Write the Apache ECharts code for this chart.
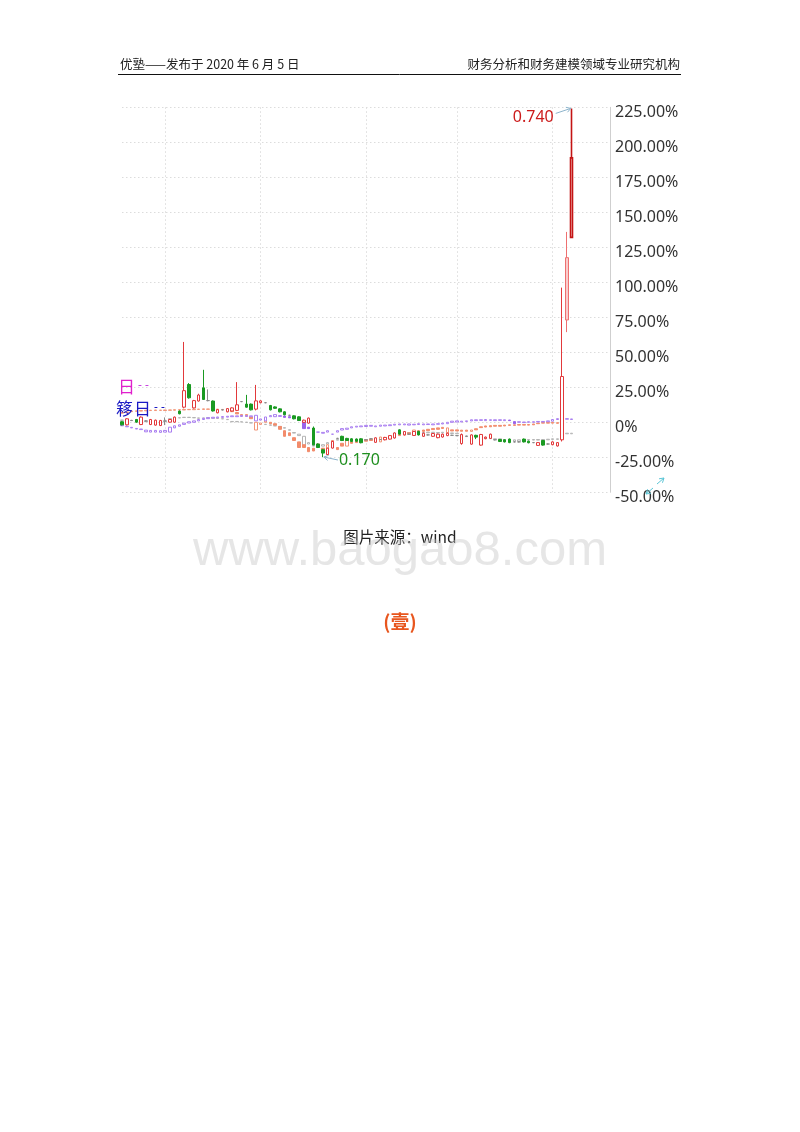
<!DOCTYPE html>
<html><head><meta charset="utf-8">
<script src="https://cdn.jsdelivr.net/npm/echarts@6/dist/echarts.min.js"></script>
<style>html,body{margin:0;padding:0;background:#fff}#c{width:800px;height:1132px}</style>
</head><body><div id="c"></div>
<script>
// ---- data (percent change vs. base) ----
const totalSlots = 103;
const categories = Array.from({length: totalSlots}, (_, i) => 'D' + (i + 1));
const monthStarts = [9, 29, 51, 70, 90];
const yTicks = [-50, -25, 0, 25, 50, 75, 100, 125, 150, 175, 200, 225];

// main security: [open, close, low, high]
const mainRows = [
[0.4,-1.8,-2.2,0.8],[-1.8,2.5,-2.2,2.9],[1.3,1.3,0.9,1.7],[2.0,0.1,-0.3,2.4],[-1.6,3.7,-2.0,4.2],
[1.0,1.0,0.6,1.4],[-1.6,2.0,-2.0,2.4],[-2.0,1.5,-2.4,1.9],[-2.3,1.3,-2.7,1.7],[1.0,1.0,-2.0,3.5],
[0.1,2.0,-0.3,2.4],[0.1,3.7,-0.3,4.1],[8.0,6.1,5.7,8.4],[10.8,22.6,10.0,57.4],[27.0,17.5,16.9,28.0],
[10.3,15.5,9.9,16.0],[15.2,19.5,14.8,20.4],[24.6,16.3,16.0,37.5],[15.5,15.5,15.0,23.5],[15.2,8.1,7.7,15.6],
[6.8,9.0,6.4,9.4],[8.9,8.9,8.5,9.3],[7.5,9.8,7.1,10.2],[8.1,10.3,7.7,10.7],[8.5,12.5,8.0,28.7],
[14.8,14.8,14.4,15.2],[13.0,10.8,10.4,19.6],[13.0,8.9,8.5,13.4],[9.4,15.3,8.5,26.7],[14.0,15.3,13.6,15.7],
[14.0,14.0,13.6,14.4],[12.0,8.9,8.5,12.4],[11.0,10.0,9.6,11.4],[9.6,7.5,7.1,10.0],[7.5,5.4,5.0,7.9],
[5.0,5.0,4.6,5.4],[4.6,2.5,2.1,5.0],[3.9,1.3,0.9,4.3],[0.0,1.5,-0.4,1.9],[-0.6,3.0,-1.0,3.4],
[-4.1,-16.1,-16.5,-3.0],[-15.5,-18.0,-18.4,-15.1],[-19.6,-22.0,-24.8,-19.0],[-23.0,-18.5,-23.4,-18.1],[-18.4,-13.7,-18.8,-13.3],
[-11.5,-11.5,-11.9,-11.1],[-10.0,-13.0,-13.4,-9.6],[-11.5,-13.0,-13.4,-11.1],[-11.8,-13.7,-14.1,-11.4],[-12.0,-13.5,-13.9,-11.6],
[-11.8,-14.6,-15.0,-11.4],[-12.5,-12.5,-12.9,-12.1],[-11.8,-11.8,-12.2,-11.4],[-14.3,-11.1,-14.7,-10.7],[-12.3,-12.3,-12.7,-11.9],
[-12.5,-10.8,-12.9,-10.4],[-12.0,-9.5,-12.4,-9.1],[-11.2,-7.6,-11.6,-7.2],[-5.4,-8.4,-8.8,-5.0],[-9.0,-6.6,-9.4,-6.2],
[-8.5,-8.5,-8.9,-8.1],[-9.4,-6.6,-9.8,-6.2],[-6.5,-9.0,-9.4,-6.1],[-10.0,-7.8,-10.4,-7.4],[-9.0,-9.0,-9.4,-8.6],
[-10.0,-8.0,-10.4,-7.6],[-11.0,-8.5,-11.4,-8.1],[-10.5,-8.5,-10.9,-8.1],[-9.5,-7.8,-9.9,-7.4],[-9.3,-9.3,-9.7,-8.9],
[-9.5,-9.5,-9.9,-9.1],[-15.2,-8.8,-16.0,-8.0],[-10.0,-10.0,-10.4,-9.6],[-15.6,-9.0,-16.0,-8.6],[-9.3,-10.5,-12.0,-8.9],
[-16.3,-8.7,-16.7,-8.3],[-11.7,-10.6,-12.1,-10.2],[-11.5,-8.5,-11.9,-8.1],[-12.5,-12.5,-12.9,-12.1],[-12.3,-13.7,-14.1,-11.9],
[-12.5,-14.0,-14.4,-12.1],[-12.0,-14.5,-14.9,-11.6],[-14.0,-14.0,-14.4,-13.6],[-14.0,-14.0,-14.4,-13.6],[-12.0,-14.0,-14.4,-11.6],
[-13.5,-14.6,-15.0,-13.1],[-14.5,-14.5,-14.9,-14.1],[-16.5,-14.5,-16.9,-14.1],[-13.0,-16.3,-16.7,-12.6],[-15.5,-15.5,-15.9,-15.1],
[-16.0,-14.0,-16.4,-13.6],[-16.9,-14.5,-17.3,-14.1],[-12.5,32.7,-13.7,96.2],[73.1,117.6,64.4,136.0],[132.1,188.9,132.1,224.2]
];

// comparison securities: [open, close]
const purpleOC = [
[-2.5,-2],[-3.2,-2.8],[-4,-3.6],[-4.8,-4.4],[-5.2,-4.8],[-6.8,-5.6],[-7,-5.8],[-7,-5.8],[-7.2,-6],[-7,-5.8],
[-7,-3.5],[-4,-2.5],[-2.8,-1.8],[-1.5,-0.6],[-0.5,0.4],[0,1],[1,2],[2,2.8],[2.6,3.3],[3,3.6],
[3.2,3.8],[3.5,4.1],[3.7,4.3],[4,4.6],[4,4.6],[4.2,4.8],[4.2,4.8],[4,4.6],[1,5],[1.6,2.4],
[1,3.8],[4,4.8],[4,5.5],[4.2,4.8],[4.5,3.5],[4,3.2],[3.6,3],[3.4,1.5],[0.5,-4.5],[-3.5,-4.5],
[-6,-6.5],[-7,-7],[-7.8,-7.2],[-7,-6],[-8.5,-8.5],[-7,-6],[-5.5,-4.5],[-5,-4.2],[-4,-3.2],[-3.4,-2.8],
[-3.2,-2.6],[-3,-2.2],[-2.8,-2.2],[-3.2,-2.6],[-2.8,-2],[-2.6,-2],[-2.4,-1.8],[-2,-1.4],[-1.8,-1.2],[-1.8,-1.2],
[-2,-1.2],[-1.8,-1.4],[-1.6,-1],[-1.8,-1.2],[-1.6,-1.2],[-1.8,-1.2],[-1.4,-1],[-1.2,-0.6],[-1,0],[0,0.8],
[0.2,1],[0.2,0.8],[0.6,1],[1,1.8],[1.2,1.8],[1.4,1.8],[1.2,2],[1.4,1.8],[1.2,1.8],[1.4,1.8],
[1.2,1.8],[1.6,1.2],[0.5,-1],[0,0.4],[-0.2,0.2],[0,0.4],[0,0.4],[0.2,0.6],[0.2,0.6],[0.4,1],
[0.8,2],[2,2.6],[2.2,2.6],[2.2,2.6],[2,2.4]
];
const salmonOC = [
[6.5,7],[7,7.4],[7.6,8],[7.8,8.2],[8,8.4],[8.2,8.6],[8.4,8.6],[8.4,8.8],[8.5,8.7],[8.4,8.8],
[8.6,8.8],[8.6,9],[8.8,9],[8.8,9.2],[9,9.2],[9,9.4],[9.2,9.4],[9.2,9.6],[9.3,9.5],[9.2,9.4],
[9,9.4],[9,9.2],[8.8,9],[8.2,7.6],[7,6],[5.5,4.6],[5.5,4.4],[3.8,2.6],[-5.5,0],[-1.5,-0.5],
[0,1],[0,-1],[-1,-2],[-3,-5],[-6,-10],[-7.5,-9.5],[-11,-13],[-14,-18],[-16,-18],[-18,-21],
[-18.5,-20.5],[-15.5,-17.5],[-18.5,-21],[-23,-16],[-18,-13],[-18,-19.5],[-15,-17],[-17,-13],[-14,-15],[-13.5,-14.5],
[-13,-14],[-12.5,-13.5],[-12,-13],[-12,-13],[-14,-10.5],[-11,-12],[-10,-11],[-9.5,-10.5],[-8.5,-9.5],[-8,-9],
[-7.5,-8.5],[-8.5,-5.5],[-6,-7],[-5.5,-6.5],[-5,-6],[-4.4,-5.2],[-4,-5],[-3.6,-4.4],[-7.5,-4],[-5.4,-6.2],
[-5.4,-6.2],[-5.6,-6.4],[-5.6,-6.4],[-6.5,-5.5],[-4.6,-5.4],[-3.2,-3.8],[-2.6,-3.4],[-2.4,-3.2],[-2.2,-2.8],[-2.2,-2.8],
[-2,-2.6],[-1.8,-2.2],[-1.8,-2.2],[-1.6,-2],[-1.6,-2],[-1.6,-2],[-1.2,-1.8],[-0.6,-1],[-0.2,-0.6],[-0.2,-0.6],
[0,-0.6],[-0.3,-0.7]
];
const greyOC = [
[1.4,1.6],[1.4,1.6],[1.2,1.4],[1.4,1.6],[1.7,1.9],[0.4,0.6],[-0.1,0.1],[-0.6,-0.4],[-0.1,0.1],[0.4,0.6],
[2.4,2.6],[2.9,3.1],[3.1,3.3],[3.4,3.6],[3.4,3.6],[3.2,3.4],[2.9,3.1],[2.9,3.1],[3.1,3.3],[2.9,3.1],
[2.7,2.9],[2.4,2.6],[1.9,2.1],[0.4,0.6],[0.4,0.6],[0.2,0.4],[-0.1,0.1],[-0.5,-0.3],[-0.9,-0.7],[-1.1,-0.9],
[-1.6,-1.4],[-2.1,-1.9],[-2.6,-2.4],[-3.1,-2.9],[-4.2,-3.8],[-5.7,-5.3],[-7.7,-7.3],[-9.5,-8.5],[-17,-10],[-15.5,-14.5],
[-17,-16],[-17.5,-16.5],[-17,-16],[-15.5,-14.5],[-14.5,-13.5],[-12.8,-12.2],[-13,-12.6],[-12.7,-12.3],[-12.7,-12.3],[-12.5,-12.1],
[-12.7,-12.3],[-12.7,-12.3],[-12.5,-12.1],[-12.2,-11.8],[-12.2,-11.8],[-11.7,-11.3],[-10.7,-10.3],[-9.7,-9.3],[-8.7,-8.3],[-8.2,-7.8],
[-7.7,-7.3],[-7.7,-7.3],[-7.5,-7.1],[-7.7,-7.3],[-7.5,-7.1],[-7.5,-7.1],[-7.7,-7.3],[-7.5,-7.1],[-7.7,-7.3],[-8,-7.6],
[-8.2,-7.8],[-9.2,-8.8],[-10.2,-9.8],[-10.2,-9.8],[-10.7,-10.3],[-10.7,-10.3],[-11.2,-10.8],[-11.7,-11.3],[-12.2,-11.8],[-12.2,-11.8],
[-12.7,-12.3],[-13.5,-12.5],[-13.5,-12.5],[-13.5,-12.5],[-13,-12.6],[-12.7,-12.3],[-12.7,-12.3],[-12.7,-12.3],[-12.7,-12.3],[-12.5,-12.1],
[-12.2,-11.8],[-12.2,-11.8],[-10.2,-9.8],[-8.2,-7.8],[-8.2,-7.8]
];
const highLabel = '0.740';
const lowLabel = '0.170';

// ---- build ----
function ocToCandle(rows){
  return rows.map(r => [r[0], r[1], Math.min(r[0], r[1]), Math.max(r[0], r[1])]);
}
const lastIdx = mainRows.length - 1;
const mainData = mainRows.map((r, i) => {
  if (i === lastIdx) return {value: r, itemStyle: {borderColor: '#c41414', borderWidth: 1.6}};
  if (i === lastIdx - 1) return {value: r, itemStyle: {color: '#f9cccc', borderColor: '#ee7070'}};
  return r;
});
let lowIdx = 0;
mainRows.forEach((r, i) => { if (r[2] < mainRows[lowIdx][2]) lowIdx = i; });
const fmtPct = v => v === 0 ? '0%' : v.toFixed(2) + '%';

const chart = echarts.init(document.getElementById('c'), null, {renderer: 'canvas'});
const dotted = {color: '#dcdcdc', type: [1.5, 2.5], width: 1};
const option = {
  animation: false,
  backgroundColor: '#fff',
  grid: {left: 122, right: 190, top: 107.3, bottom: 1132 - 492.3},
  xAxis: {
    type: 'category', data: categories, boundaryGap: false,
    axisLine: {show: false}, axisTick: {show: false}, axisLabel: {show: false},
    splitLine: {show: true, interval: (idx) => monthStarts.includes(idx), lineStyle: dotted}
  },
  yAxis: {
    type: 'value', position: 'right', min: yTicks[0], max: yTicks[yTicks.length - 1], interval: 25,
    axisLine: {show: true, lineStyle: {color: '#cfcfcf'}},
    axisTick: {show: false},
    splitLine: {show: true, lineStyle: dotted},
    axisLabel: {show: false}
  },
  series: [
    {type: 'candlestick', name: 'grey', data: ocToCandle(greyOC), barWidth: 3, clip: false, z: 2,
     itemStyle: {color: '#fff', color0: '#b4b4b4', borderColor: '#b4b4b4', borderColor0: '#b4b4b4', borderColorDoji: '#b4b4b4', borderWidth: 1}},
    {type: 'candlestick', name: 'salmon', data: ocToCandle(salmonOC), barWidth: 3, clip: false, z: 3,
     itemStyle: {color: '#fff', color0: '#f28c6c', borderColor: '#f29476', borderColor0: '#f28c6c', borderColorDoji: '#f29476', borderWidth: 1}},
    {type: 'candlestick', name: 'purple', data: ocToCandle(purpleOC), barWidth: 3, clip: false, z: 4,
     itemStyle: {color: '#fff', color0: '#9a62ea', borderColor: '#a97ef0', borderColor0: '#9a62ea', borderColorDoji: '#a97ef0', borderWidth: 1}},
    {type: 'candlestick', name: 'main', data: mainData, barWidth: 3, clip: false, z: 5,
     itemStyle: {color: '#fff', color0: '#1a9a22', borderColor: '#e2393b', borderColor0: '#1a9a22', borderColorDoji: '#8c8c8c', borderWidth: 1}}
  ]
};
chart.setOption(option);

function arrowEls(from, to, color){
  const a = Math.atan2(to[1] - from[1], to[0] - from[0]);
  const L = 5;
  const p1 = [to[0] - L * Math.cos(a - 0.55), to[1] - L * Math.sin(a - 0.55)];
  const p2 = [to[0] - L * Math.cos(a + 0.55), to[1] - L * Math.sin(a + 0.55)];
  return [
    {type: 'line', shape: {x1: from[0], y1: from[1], x2: to[0], y2: to[1]}, style: {stroke: color, lineWidth: 1}, z: 20},
    {type: 'polyline', shape: {points: [p1, to, p2]}, style: {stroke: color, lineWidth: 1, fill: null}, z: 20}
  ];
}
const toPx = (cat, v) => chart.convertToPixel({xAxisIndex: 0, yAxisIndex: 0}, [cat, v]);
const hiPt = toPx(categories[lastIdx], mainRows[lastIdx][3]);
const loPt = toPx(categories[lowIdx], mainRows[lowIdx][2]);
const axisX = toPx(categories[totalSlots - 1], 0)[0];
const arrowColor = '#8db4cc';
const cjk = '"Noto Sans CJK SC", "Noto Sans", sans-serif';
// y-axis labels, placed through the axis scale (drawn slightly below each grid line as in the source)
const yLabelEls = yTicks.map(v => ({
  type: 'text', x: axisX + 5, y: toPx(categories[0], v)[1] + 5,
  style: {text: fmtPct(v), font: '16px "Noto Sans"', fill: '#333', textAlign: 'left', textVerticalAlign: 'middle'}, z: 10
}));
const graphics = [
  // header
  {type: 'text', left: 120, top: 58, style: {text: '优塾——发布于 2020 年 6 月 5 日', font: '12.5px ' + cjk, fill: '#222'}},
  {type: 'text', right: 120, top: 58, style: {text: '财务分析和财务建模领域专业研究机构', font: '12.5px ' + cjk, fill: '#222'}},
  {type: 'line', shape: {x1: 118, y1: 74.5, x2: 681, y2: 74.5}, style: {stroke: '#111', lineWidth: 1}},
  ...yLabelEls,
  // partial legend texts at left edge
  {type: 'text', x: 118, y: 387, style: {text: '日', font: '17px ' + cjk, fill: '#e020cc', textVerticalAlign: 'middle'}, z: 30},
  {type: 'text', x: 138, y: 386, style: {text: '- -', font: '12px "Noto Sans"', fill: '#c844e0', textVerticalAlign: 'middle'}, z: 30},
  {type: 'text', x: 116, y: 409, style: {text: '簃', font: '17px ' + cjk, fill: '#1a1ac4', textVerticalAlign: 'middle'}, z: 30},
  {type: 'text', x: 134, y: 409, style: {text: '日', font: '17px ' + cjk, fill: '#1a1ac4', textVerticalAlign: 'middle'}, z: 30},
  {type: 'text', x: 154, y: 408, style: {text: '- -', font: '12px "Noto Sans"', fill: '#1a1ac4', textVerticalAlign: 'middle'}, z: 30},
  // high / low annotations
  ...arrowEls([hiPt[0] - 16, hiPt[1] + 5], [hiPt[0] - 1, hiPt[1]], arrowColor),
  {type: 'text', x: hiPt[0] - 18, y: hiPt[1] + 9, style: {text: highLabel, font: '16px "Noto Sans"', fill: '#cc1a1a', textAlign: 'right', textVerticalAlign: 'middle'}, z: 30},
  ...arrowEls([loPt[0] + 15, loPt[1] + 3], [loPt[0] + 1, loPt[1]], arrowColor),
  {type: 'text', x: loPt[0] + 16, y: loPt[1] + 3, style: {text: lowLabel, font: '16px "Noto Sans"', fill: '#1f8f1f', textAlign: 'left', textVerticalAlign: 'middle'}, z: 30},
  // zoom icon
  ...arrowEls([657, 484], [664, 478], '#5cc6d6'),
  ...arrowEls([653, 488], [646, 494], '#5cc6d6'),
  // footer texts
  {type: 'text', x: 400, y: 537, style: {text: '图片来源：wind', font: '15.5px ' + cjk, fill: '#222', textAlign: 'center', textVerticalAlign: 'middle'}},
  {type: 'text', x: 400, y: 551, style: {text: 'www.baogao8.com', font: '49px "Liberation Sans", Arial, sans-serif', fill: 'rgba(200,200,200,0.45)', textAlign: 'center', textVerticalAlign: 'middle'}, z: 40},
  {type: 'text', x: 400, y: 622, style: {text: '(壹)', font: 'bold 19px ' + cjk, fill: '#e8561e', textAlign: 'center', textVerticalAlign: 'middle'}}
];
chart.setOption({graphic: graphics});
</script>
</body></html>
